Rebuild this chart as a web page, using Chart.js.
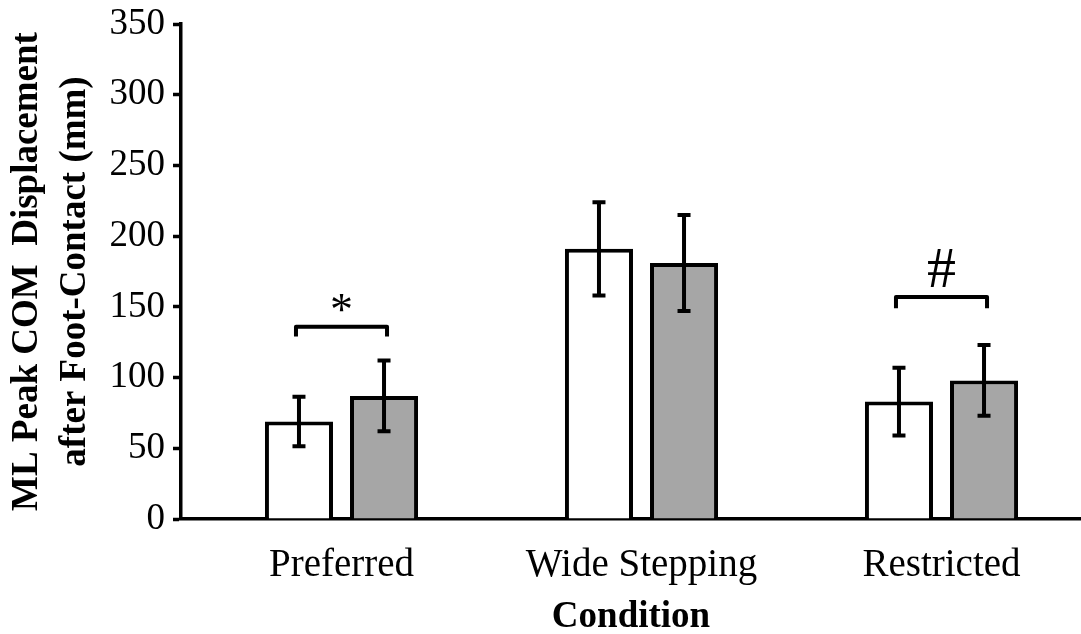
<!DOCTYPE html>
<html>
<head>
<meta charset="utf-8">
<script src="https://cdn.jsdelivr.net/npm/chart.js@4.4.1/dist/chart.umd.min.js"></script>
<style>
html,body{margin:0;padding:0;background:#fff;}
</style>
</head>
<body>
<canvas id="chart" width="1081" height="634"></canvas>
<script>
/* ================= DATA ================= */
const categories = ["Preferred", "Wide Stepping", "Restricted"];
const whiteMeans = [69, 191, 83];
const whiteErr   = [17.5, 33, 24];
const grayMeans  = [87, 181, 98];
const grayErr    = [25, 34, 25];
const yTicks     = [0, 50, 100, 150, 200, 250, 300, 350];
// significance brackets: category, bracket height, leg drop, symbol
const brackets = [
  { cat: 0, y: 136, drop: 7, mark: "*" },
  { cat: 2, y: 157, drop: 8, mark: "#" }
];

const FONT = "'Liberation Serif', 'Times New Roman', serif";

/* ================= PLUGINS ================= */
const errorBars = {
  id: "errorBars",
  afterDatasetsDraw(chart){
    const ctx = chart.ctx;
    const ys = chart.scales.y;
    [[whiteMeans, whiteErr], [grayMeans, grayErr]].forEach(([means, err], i)=>{
      const meta = chart.getDatasetMeta(i);
      meta.data.forEach((bar, j)=>{
        const top = ys.getPixelForValue(means[j] + err[j]);
        const bot = ys.getPixelForValue(means[j] - err[j]);
        ctx.save();
        ctx.strokeStyle = "#000";
        ctx.lineWidth = 4;
        ctx.beginPath();
        ctx.moveTo(bar.x, top);
        ctx.lineTo(bar.x, bot);
        ctx.moveTo(bar.x - 6.5, top);
        ctx.lineTo(bar.x + 6.5, top);
        ctx.moveTo(bar.x - 6.5, bot);
        ctx.lineTo(bar.x + 6.5, bot);
        ctx.stroke();
        ctx.restore();
      });
    });
  }
};

const sigBrackets = {
  id: "sigBrackets",
  afterDatasetsDraw(chart){
    const ctx = chart.ctx;
    const ys = chart.scales.y;
    brackets.forEach(b=>{
      const x1 = chart.getDatasetMeta(0).data[b.cat].x - 3;
      const x2 = chart.getDatasetMeta(1).data[b.cat].x + 3;
      const yTop = ys.getPixelForValue(b.y);
      const yLeg = ys.getPixelForValue(b.y - b.drop);
      ctx.save();
      ctx.strokeStyle = "#000";
      ctx.lineWidth = 4;
      ctx.lineJoin = "round";
      ctx.beginPath();
      ctx.moveTo(x1, yLeg);
      ctx.lineTo(x1, yTop);
      ctx.lineTo(x2, yTop);
      ctx.lineTo(x2, yLeg);
      ctx.stroke();
      ctx.fillStyle = "#000";
      ctx.textAlign = "center";
      ctx.textBaseline = "alphabetic";
      if (b.mark === "*") {
        ctx.font = "46px " + FONT;
        ctx.fillText(b.mark, (x1 + x2) / 2, yTop - 2);
      } else {
        ctx.font = "58px " + FONT;
        ctx.fillText(b.mark, (x1 + x2) / 2, yTop - 10);
      }
      ctx.restore();
    });
  }
};

/* ================= CHART ================= */
const ctx = document.getElementById("chart").getContext("2d");
const toPoints = arr => arr.map((v, i)=>({ x: i, y: v }));

new Chart(ctx, {
  type: "bar",
  data: {
    datasets: [
      {
        label: "white",
        data: toPoints(whiteMeans),
        backgroundColor: "#ffffff",
        borderColor: "#000000",
        borderWidth: 4
      },
      {
        label: "gray",
        data: toPoints(grayMeans),
        backgroundColor: "#a6a6a6",
        borderColor: "#000000",
        borderWidth: 4
      }
    ]
  },
  options: {
    responsive: false,
    animation: false,
    devicePixelRatio: 1,
    categoryPercentage: 0.567,
    barPercentage: 0.8,
    layout: { padding: { top: 24, left: 0, right: 0, bottom: 0 } },
    plugins: {
      legend: { display: false },
      tooltip: { enabled: false }
    },
    scales: {
      x: {
        type: "linear",
        offset: false,
        min: -0.535,
        max: 2.465,
        afterBuildTicks: s => { s.ticks = categories.map((c, i)=>({ value: i })); },
        afterFit: s => { s.height = 115; s.paddingLeft = 0; s.paddingRight = 0; },
        grid: { display: false, drawTicks: false, offset: false },
        border: { display: true, color: "#000", width: 3.5 },
        ticks: {
          color: "#000",
          padding: 23,
          font: { family: FONT, size: 39 },
          callback: v => categories[v] ?? ""
        },
        title: {
          display: true,
          text: "Condition",
          color: "#000",
          padding: { top: 0, bottom: -2 },
          font: { family: FONT, size: 37, weight: "bold", lineHeight: 1 }
        }
      },
      y: {
        min: 0,
        max: 350,
        afterBuildTicks: s => { s.ticks = yTicks.map(v=>({ value: v })); },
        afterFit: s => { s.width = 181; s.paddingTop = 0; s.paddingBottom = 0; },
        grid: {
          drawOnChartArea: false,
          drawTicks: true,
          tickLength: 8,
          tickWidth: 3.5,
          tickColor: "#000"
        },
        border: { display: true, color: "#000", width: 3.5 },
        ticks: {
          color: "#000",
          padding: 8,
          font: { family: FONT, size: 37 }
        },
        title: {
          display: true,
          text: ["ML Peak COM  Displacement", "after Foot-Contact (mm)"],
          color: "#000",
          padding: { top: 3, bottom: 0 },
          font: { family: FONT, size: 37, weight: "bold", lineHeight: 1.3 }
        }
      }
    }
  },
  plugins: [errorBars, sigBrackets]
});
</script>
</body>
</html>
